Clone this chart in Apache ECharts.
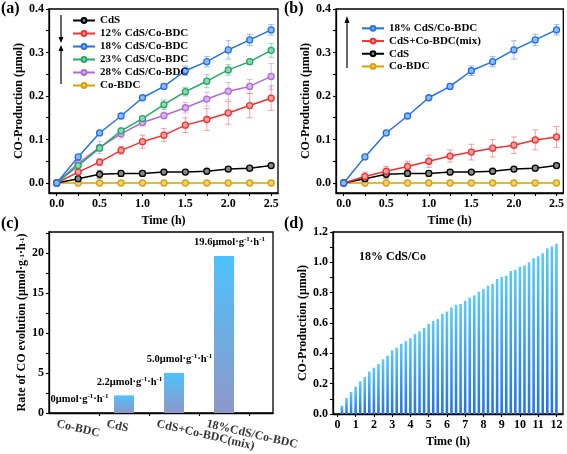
<!DOCTYPE html>
<html><head><meta charset="utf-8">
<script src="https://cdn.jsdelivr.net/npm/echarts@6/dist/echarts.min.js"></script>
<style>html,body{margin:0;padding:0;background:#fff}#c{width:567px;height:454px}</style>
</head><body><div id="c"></div>
<script>
// ---------- data ----------
const timeAB = [0, 0.25, 0.5, 0.75, 1.0, 1.25, 1.5, 1.75, 2.0, 2.25, 2.5];
const cds     = [0, 0.010, 0.020, 0.022, 0.022, 0.025, 0.025, 0.027, 0.032, 0.034, 0.040];
const cds12   = [0, 0.025, 0.048, 0.075, 0.095, 0.110, 0.133, 0.146, 0.161, 0.178, 0.195];
const cds18   = [0, 0.060, 0.115, 0.154, 0.196, 0.222, 0.258, 0.279, 0.306, 0.329, 0.352];
const cds23   = [0, 0.040, 0.080, 0.120, 0.148, 0.180, 0.210, 0.234, 0.260, 0.279, 0.305];
const cds28   = [0, 0.045, 0.082, 0.113, 0.139, 0.155, 0.173, 0.193, 0.211, 0.222, 0.245];
const coBDC   = [0, 0, 0, 0, 0, 0, 0, 0, 0, 0, 0];
const mix     = [0, 0.015, 0.027, 0.038, 0.050, 0.062, 0.071, 0.080, 0.087, 0.099, 0.106];
const errCds   = [0, 0.002, 0.009, 0.007, 0.006, 0.006, 0.004, 0.004, 0.004, 0.004, 0.005];
const errCds12 = [0, 0.004, 0.008, 0.009, 0.015, 0.015, 0.017, 0.025, 0.026, 0.028, 0.028];
const errCds18 = [0, 0.003, 0.004, 0.003, 0.004, 0.006, 0.011, 0.012, 0.021, 0.013, 0.012];
const errCds23 = [0, 0.004, 0.005, 0.006, 0.004, 0.011, 0.010, 0.015, 0.012, 0.006, 0.016];
const errCds28 = [0, 0.004, 0.014, 0.010, 0.008, 0.008, 0.012, 0.016, 0.020, 0.016, 0.030];
const errMix   = [0, 0.010, 0.011, 0.012, 0.014, 0.014, 0.018, 0.020, 0.019, 0.023, 0.024];

const rateCats   = ['Co-BDC', 'CdS', 'CdS+Co-BDC(mix)', '18%CdS/Co-BDC'];
const rateValues = [0, 2.2, 5.0, 19.6];
const rateText   = ['0', '2.2', '5.0', '19.6'];

const timeD = [0.25,0.5,0.75,1,1.25,1.5,1.75,2,2.25,2.5,2.75,3,3.25,3.5,3.75,4,4.25,4.5,4.75,5,5.25,5.5,5.75,6,
               6.25,6.5,6.75,7,7.25,7.5,7.75,8,8.25,8.5,8.75,9,9.25,9.5,9.75,10,10.25,10.5,10.75,11,11.25,11.5,11.75,12];
const prodD = [0.055,0.105,0.145,0.180,0.215,0.245,0.280,0.305,0.330,0.360,0.385,0.420,0.437,0.463,0.480,0.500,
               0.527,0.545,0.567,0.595,0.613,0.626,0.660,0.675,0.703,0.720,0.725,0.747,0.767,0.782,0.806,0.824,
               0.846,0.859,0.890,0.903,0.912,0.943,0.950,0.971,0.980,1.000,1.026,1.040,1.060,1.092,1.105,1.123];

const labelsAB_x = [0, 0.5, 1.0, 1.5, 2.0, 2.5];
const ticksAB_x  = [0, 0.25, 0.5, 0.75, 1.0, 1.25, 1.5, 1.75, 2.0, 2.25, 2.5];
const labelsAB_y = [0, 0.1, 0.2, 0.3, 0.4];
const ticksAB_y  = [0, 0.05, 0.1, 0.15, 0.2, 0.25, 0.3, 0.35, 0.4];
const labelsC_y  = [0, 5, 10, 15, 20];
const ticksC_y   = [0, 2.5, 5, 7.5, 10, 12.5, 15, 17.5, 20, 22.5];
const labelsD_x  = [0,1,2,3,4,5,6,7,8,9,10,11,12];
const labelsD_y  = [0, 0.2, 0.4, 0.6, 0.8, 1.0, 1.2];
const ticksD_y   = [0, 0.1, 0.2, 0.3, 0.4, 0.5, 0.6, 0.7, 0.8, 0.9, 1.0, 1.1, 1.2];

// ---------- style ----------
const FF = "'Liberation Serif','Times New Roman',serif";
const C = {cds:'#000000', c12:'#f03030', c18:'#1f6fef', c23:'#20a865', c28:'#b06ad8', co:'#dca000'};
const T = {cds:'#888888', c12:'#f8a0a0', c18:'#93b8f7', c23:'#90d4b2', c28:'#d8b5ec', co:'#eed080'};

const chart = echarts.init(document.getElementById('c'), null, {renderer:'canvas'});

function axisDef(grid, min, max, labels, ticks, fmt, name, nameGap) {
  return {
    gridIndex: grid, type: 'value', min: min, max: max,
    axisLine: {show: true, onZero: false, lineStyle: {color: '#000', width: 1.3}},
    axisTick: {show: true, inside: false, length: 3, lineStyle: {color:'#000', width: 1.1}, customValues: ticks},
    axisLabel: {show: labels.length > 0, customValues: labels, formatter: fmt, color: '#000', fontFamily: FF, fontWeight: 'bold', fontSize: 12, margin: 5,
                showMinLabel: true, showMaxLabel: true},
    splitLine: {show: false},
    name: name, nameLocation: 'middle', nameGap: nameGap,
    nameTextStyle: {color:'#000', fontFamily: FF, fontWeight:'bold', fontSize: 12}
  };
}
const f1 = v => v.toFixed(1);
const f0 = v => String(v);

function lineSeries(key, name, ys, gi) {
  return {
    name: name, type: 'line', xAxisIndex: gi, yAxisIndex: gi,
    data: timeAB.map((t, i) => [t, ys[i]]),
    lineStyle: {color: C[key], width: 1.5},
    itemStyle: {color: T[key], borderColor: C[key], borderWidth: 1.3},
    symbol: 'circle', symbolSize: 6, showSymbol: true, z: 3,
    emphasis: {disabled: true}
  };
}
function errSeries(ys, es, color, gi) {
  return {
    type: 'custom', xAxisIndex: gi, yAxisIndex: gi, z: 2, silent: true,
    data: timeAB.map((t, i) => [t, ys[i] - es[i], ys[i] + es[i]]),
    renderItem: function (params, api) {
      const x = api.value(0);
      const p1 = api.coord([x, api.value(2)]);
      const p2 = api.coord([x, api.value(1)]);
      if (Math.abs(p2[1] - p1[1]) < 1) return null;
      const w = 3;
      const st = {stroke: color, lineWidth: 1, opacity: 0.45};
      return {type: 'group', children: [
        {type: 'line', shape: {x1: p1[0], y1: p1[1], x2: p2[0], y2: p2[1]}, style: st},
        {type: 'line', shape: {x1: p1[0]-w, y1: p1[1], x2: p1[0]+w, y2: p1[1]}, style: st},
        {type: 'line', shape: {x1: p2[0]-w, y1: p2[1], x2: p2[0]+w, y2: p2[1]}, style: st}
      ]};
    }
  };
}

const supRich = {
  a: {fontFamily: FF, fontWeight: 'bold', fontSize: 10.5, color: '#000', lineHeight: 13},
  s: {fontFamily: FF, fontWeight: 'bold', fontSize: 7, color: '#000', verticalAlign: 'top', lineHeight: 13, padding: [0,0,5,0]}
};

const arrowStyle = {stroke: '#000', lineWidth: 1.2};
const gr = [
  {type:'text', left: 1, top: 1, style:{text:'(a)', font: "bold 16px "+FF, fill:'#000'}},
  {type:'text', left: 284, top: 1, style:{text:'(b)', font: "bold 16px "+FF, fill:'#000'}},
  {type:'text', left: 1, top: 216, style:{text:'(c)', font: "bold 16px "+FF, fill:'#000'}},
  {type:'text', left: 284, top: 216, style:{text:'(d)', font: "bold 16px "+FF, fill:'#000'}},
  {type:'text', left: 359, top: 251, style:{text:'18% CdS/Co', font: "bold 12px "+FF, fill:'#000'}},
  // arrows panel (a)
  {type:'line', shape:{x1:61, y1:15, x2:61, y2:38}, style: arrowStyle},
  {type:'polygon', shape:{points:[[58.5,37],[63.5,37],[61,43]]}, style:{fill:'#000'}},
  {type:'line', shape:{x1:61, y1:84, x2:61, y2:50}, style: arrowStyle},
  {type:'polygon', shape:{points:[[58.5,51],[63.5,51],[61,45]]}, style:{fill:'#000'}},
  // arrow panel (b)
  {type:'line', shape:{x1:347, y1:68, x2:347, y2:22}, style: arrowStyle},
  {type:'polygon', shape:{points:[[344.5,23],[349.5,23],[347,16]]}, style:{fill:'#000'}}
];

const legendText = {fontFamily: FF, fontWeight: 'bold', fontSize: 11, color: '#000', lineHeight: 13};

const xC = axisDef(2, -0.5, 3.98, [], [0.5, 1.5, 2.5, 3.5], f0, '', 0);
const yC = axisDef(2, 0, 22.6, labelsC_y, ticksC_y, f0, 'Rate of CO evolution (μmol·g{s|-1}·h{s|-1})', 16);
yC.nameTextStyle.rich = {s: {fontFamily: FF, fontWeight:'bold', fontSize: 7, color:'#000'}};

const option = {
  backgroundColor: '#fff',
  animation: false,
  textStyle: {fontFamily: FF},
  grid: [
    {left: 49, top: 9, width: 229, height: 184, show: true, borderColor: '#000', borderWidth: 1.3, backgroundColor: 'transparent'},
    {left: 336, top: 9, width: 228, height: 184, show: true, borderColor: '#000', borderWidth: 1.3, backgroundColor: 'transparent'},
    {left: 49, top: 232, width: 224, height: 181, show: true, borderColor: '#000', borderWidth: 1.3, backgroundColor: 'transparent'},
    {left: 333, top: 232, width: 230, height: 182, show: true, borderColor: '#000', borderWidth: 1.3, backgroundColor: 'transparent'}
  ],
  xAxis: [
    axisDef(0, -0.09, 2.58, labelsAB_x, ticksAB_x, f1, 'Time (h)', 22),
    axisDef(1, -0.09, 2.58, labelsAB_x, ticksAB_x, f1, 'Time (h)', 22),
    xC,
    axisDef(3, -0.24, 12.36, labelsD_x, labelsD_x, f0, 'Time (h)', 22)
  ],
  yAxis: [
    axisDef(0, -0.023, 0.4, labelsAB_y, ticksAB_y, f1, 'CO-Production (μmol)', 17),
    axisDef(1, -0.023, 0.4, labelsAB_y, ticksAB_y, f1, 'CO-Production (μmol)', 17),
    yC,
    axisDef(3, 0, 1.2, labelsD_y, ticksD_y, f1, 'CO-Production (μmol)', 14)
  ],
  legend: [
    {orient: 'vertical', left: 67, top: 9, itemWidth: 22, itemHeight: 6, itemGap: 0,
     data: ['CdS', '12% CdS/Co-BDC', '18% CdS/Co-BDC', '23% CdS/Co-BDC', '28% CdS/Co-BDC', 'Co-BDC'],
     textStyle: legendText, selectedMode: false},
    {orient: 'vertical', left: 356, top: 17, itemWidth: 22, itemHeight: 6, itemGap: 0,
     data: ['18% CdS/Co-BDC ', 'CdS+Co-BDC(mix)', 'CdS ', 'Co-BDC '],
     textStyle: Object.assign({}, legendText, {lineHeight: 12.7}), selectedMode: false}
  ],
  graphic: gr,
  series: [
    // panel (a)
    errSeries(cds, errCds, C.cds, 0),
    errSeries(cds12, errCds12, C.c12, 0),
    errSeries(cds18, errCds18, C.c18, 0),
    errSeries(cds23, errCds23, C.c23, 0),
    errSeries(cds28, errCds28, C.c28, 0),
    lineSeries('co', 'Co-BDC', coBDC, 0),
    lineSeries('cds', 'CdS', cds, 0),
    lineSeries('c12', '12% CdS/Co-BDC', cds12, 0),
    lineSeries('c28', '28% CdS/Co-BDC', cds28, 0),
    lineSeries('c23', '23% CdS/Co-BDC', cds23, 0),
    lineSeries('c18', '18% CdS/Co-BDC', cds18, 0),
    // panel (b)
    errSeries(cds, errCds, C.cds, 1),
    errSeries(mix, errMix, C.c12, 1),
    errSeries(cds18, errCds18, C.c18, 1),
    lineSeries('co', 'Co-BDC ', coBDC, 1),
    lineSeries('cds', 'CdS ', cds, 1),
    lineSeries('c12', 'CdS+Co-BDC(mix)', mix, 1),
    lineSeries('c18', '18% CdS/Co-BDC ', cds18, 1),
    // panel (c)
    {type: 'bar', xAxisIndex: 2, yAxisIndex: 2, barWidth: 20,
     data: rateValues.map((v, i) => [i, v]),
     itemStyle: {color: new echarts.graphic.LinearGradient(0, 0, 0, 1, [
       {offset: 0, color: '#4dc2fb'}, {offset: 1, color: '#8e97c9'}])},
     label: {show: true, position: 'top', distance: 7, padding: [0, 0, 0, 11],
       formatter: p => '{a|' + rateText[p.dataIndex] + 'μmol·g}{s|-1}{a|·h}{s|-1}',
       rich: supRich},
     labelLayout: {hideOverlap: false},
     emphasis: {disabled: true}},
    // category labels for panel (c), anchored at each category position on the axis
    {type: 'scatter', xAxisIndex: 2, yAxisIndex: 2, symbolSize: 0, silent: true, clip: false,
     data: rateCats.map((c, i) => [i, 0]),
     label: {show: true, position: [-16, 5], align: 'left', verticalAlign: 'top', rotate: -13,
       formatter: p => rateCats[p.dataIndex],
       color: '#000', fontFamily: FF, fontWeight: 'bold', fontSize: 12},
     labelLayout: {hideOverlap: false},
     emphasis: {disabled: true}},
    // panel (d)
    {type: 'bar', xAxisIndex: 3, yAxisIndex: 3, barWidth: 2.6,
     data: timeD.map((t, i) => [t, prodD[i]]),
     itemStyle: {color: new echarts.graphic.LinearGradient(0, 0, 0, 1, [
       {offset: 0, color: '#5ccaf9'}, {offset: 1, color: '#2373e6'}])},
     emphasis: {disabled: true}}
  ]
};
chart.setOption(option);
</script></body></html>
